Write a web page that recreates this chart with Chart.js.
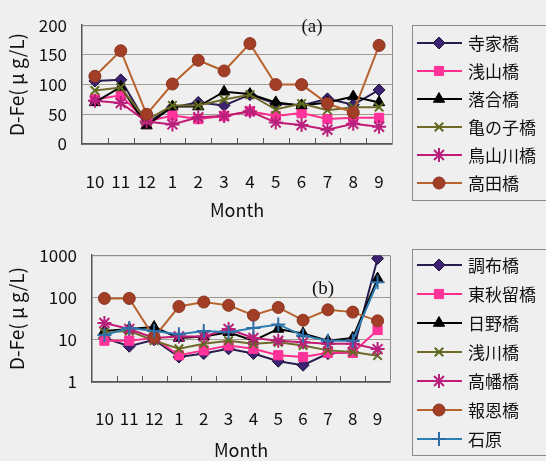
<!DOCTYPE html>
<html>
<head>
<meta charset="utf-8">
<script src="https://cdn.jsdelivr.net/npm/chart.js@4"></script>
<style>
  html, body { margin: 0; padding: 0; background: #efefef; }
  #wrap { position: relative; width: 546px; height: 461px; overflow: hidden; }
  canvas { position: absolute; left: 0; }
  #chartA { top: 0; }
  #chartB { top: 230px; }
</style>
</head>
<body>
<div id="wrap">
  <canvas id="chartA" width="546" height="230"></canvas>
  <canvas id="chartB" width="546" height="231"></canvas>
</div>
<script>
// Sampling months (October to September)
const months = ['10', '11', '12', '1', '2', '3', '4', '5', '6', '7', '8', '9'];

// (a) dissolved iron, linear scale
const namesA = ['寺家橋', '浅山橋', '落合橋', '亀の子橋', '鳥山川橋', '高田橋'];
const jikeA     = [106, 108, 35, 62, 70, 65, 83, 68, 65, 76, 66, 91];
const asayamaA  = [75, 82, 38, 48, 42, 47, 55, 47, 52, 42, 44, 44];
const ochiaiA   = [70, 96, 31, 63, 63, 88, 84, 70, 65, 70, 80, 70];
const kamenokoA = [90, 95, 40, 65, 65, 75, 83, 58, 68, 57, 62, 62];
const toriyamaA = [73, 69, 38, 33, 45, 47, 55, 36, 32, 24, 34, 29];
const takadaA   = [114, 157, 50, 101, 141, 123, 169, 100, 100, 68, 53, 166];
const yTicksA   = [0, 50, 100, 150, 200];

// (b) dissolved iron, log scale
const namesB = ['調布橋', '東秋留橋', '日野橋', '浅川橋', '高幡橋', '報恩橋', '石原'];
const chofuB     = [11, 7, 10, 3.9, 4.7, 6.1, 4.7, 3.1, 2.5, 4.7, 5.1, 840];
const higashiB   = [9.5, 9.5, 11, 4.3, 5.6, 7.3, 6.1, 4.3, 3.9, 4.9, 4.9, 17];
const hinoB      = [16, 18, 20, 11, 12, 15, 9.5, 18, 14, 9.5, 11, 280];
const asakawaB   = [15, 16, 9.5, 6.1, 8, 9.5, 8, 8.7, 7.3, 5.6, 5.1, 4.2];
const takahataB  = [25, 18, 11, 12, 12, 18, 11, 9.5, 8.7, 8, 8, 6];
const hoonB      = [95, 95, 11.4, 61, 78, 65, 38, 58, 29, 51, 45, 28];
const ishiharaB  = [13, 19, 16, 13.5, 16, 15, 19, 23, 12.5, 9.5, 9.5, 230];
const yTicksB    = [1, 10, 100, 1000];

const seriesA = [jikeA, asayamaA, ochiaiA, kamenokoA, toriyamaA, takadaA];
const seriesB = [chofuB, higashiB, hinoB, asakawaB, takahataB, hoonB, ishiharaB];

// Line / marker style per series slot (shared by both panels)
const styles = [
  { line: '#2a1c4e', fill: '#3d2272', edge: '#1c1238', shape: 'rectRot',  r: 6, bw: 1 },
  { line: '#ff2e8e', fill: '#ff3399', edge: '#ff3399', shape: 'rect',     r: 6.5, bw: 1 },
  { line: '#000000', fill: '#000000', edge: '#000000', shape: 'triangle', r: 6.5, bw: 1 },
  { line: '#6f6a2a', fill: 'rgba(0,0,0,0)', edge: '#5e6a1e', shape: 'crossRot', r: 6, bw: 2 },
  { line: '#c21b73', fill: 'rgba(0,0,0,0)', edge: '#b8207c', shape: 'star', r: 7, bw: 2 },
  { line: '#b8622e', fill: '#a23e26', edge: '#8a3420', shape: 'circle',   r: 6, bw: 1 },
  { line: '#2e7fb2', fill: 'rgba(0,0,0,0)', edge: '#2e6fa8', shape: 'cross', r: 7, bw: 2 }
];

const UI_FONT = '"Noto Sans CJK JP", "Noto Sans", sans-serif';

function buildDatasets(names, series) {
  return names.map((name, i) => {
    const st = styles[i];
    return {
      label: name,
      data: series[i],
      borderColor: st.line,
      backgroundColor: st.fill,
      borderWidth: 2,
      pointStyle: st.shape,
      pointRadius: st.r,
      pointBackgroundColor: st.fill,
      pointBorderColor: st.edge,
      pointBorderWidth: st.bw,
      tension: 0,
      order: names.length - i
    };
  });
}

// Frame, inner tick marks, panel tag and boxed legend
const panelDecor = {
  id: 'panelDecor',
  beforeDatasetsDraw(chart, args, opts) {
    const { ctx, chartArea: a } = chart;
    ctx.save();
    ctx.strokeStyle = '#8c8c8c';
    ctx.lineWidth = 1;
    ctx.beginPath();
    ctx.moveTo(a.left, a.top + 0.5);
    ctx.lineTo(a.right + 0.5, a.top + 0.5);
    ctx.lineTo(a.right + 0.5, a.bottom);
    ctx.stroke();
    // short upward tick marks at the category boundaries
    const xs = chart.scales.x;
    ctx.strokeStyle = '#555';
    ctx.beginPath();
    for (let i = 1; i < months.length; i++) {
      const px = Math.round(xs.getPixelForValue(i - 0.5)) + 0.5;
      ctx.moveTo(px, a.bottom);
      ctx.lineTo(px, a.bottom - 6);
    }
    ctx.stroke();
    ctx.restore();
  },
  afterDraw(chart, args, opts) {
    const ctx = chart.ctx;
    ctx.save();
    // panel tag
    ctx.fillStyle = '#111';
    ctx.font = '19px "Liberation Serif", "DejaVu Serif", serif';
    ctx.textAlign = 'center';
    ctx.textBaseline = 'middle';
    ctx.fillText(opts.tag, opts.tagX, opts.tagY);
    // legend box
    ctx.strokeStyle = '#8a8a8a';
    ctx.lineWidth = 1;
    ctx.strokeRect(opts.boxX + 0.5, opts.boxY + 0.5, opts.boxW, opts.boxH);
    chart.data.datasets.forEach((ds, i) => {
      const y = opts.y0 + i * opts.dy;
      ctx.strokeStyle = ds.borderColor;
      ctx.lineWidth = 2;
      ctx.beginPath();
      ctx.moveTo(417, y);
      ctx.lineTo(462, y);
      ctx.stroke();
      ctx.fillStyle = ds.pointBackgroundColor;
      ctx.strokeStyle = ds.pointBorderColor;
      ctx.lineWidth = ds.pointBorderWidth;
      Chart.helpers.drawPoint(ctx, {
        pointStyle: ds.pointStyle,
        radius: ds.pointRadius,
        borderWidth: ds.pointBorderWidth,
        rotation: 0
      }, 439, y);
      ctx.fillStyle = '#111';
      ctx.font = '17px ' + UI_FONT;
      ctx.textAlign = 'left';
      ctx.textBaseline = 'middle';
      ctx.fillText(ds.label, 468, y + 1);
    });
    ctx.restore();
  }
};

function makeChart(id, names, series, cfg) {
  return new Chart(document.getElementById(id), {
    type: 'line',
    data: { labels: months, datasets: buildDatasets(names, series) },
    plugins: [panelDecor],
    options: {
      responsive: false,
      animation: false,
      events: [],
      layout: { padding: cfg.padding },
      plugins: {
        legend: { display: false },
        tooltip: { enabled: false },
        panelDecor: cfg.decor
      },
      scales: {
        x: {
          type: 'category',
          offset: true,
          grid: { display: false, drawTicks: false },
          border: { display: true, color: '#555', width: 1.5 },
          ticks: {
            padding: cfg.xPad,
            maxRotation: 0,
            autoSkip: false,
            color: '#111',
            font: { family: UI_FONT, size: 17 }
          },
          title: {
            display: true,
            text: 'Month',
            color: '#111',
            font: { family: UI_FONT, size: 18 },
            padding: { top: 0, bottom: cfg.titlePad }
          },
          afterFit(scale) { scale.height = cfg.xHeight; }
        },
        y: {
          type: cfg.yType,
          min: cfg.yMin,
          max: cfg.yMax,
          grid: { color: '#a09a90', lineWidth: 1, drawTicks: false },
          border: { display: true, color: '#555', width: 1.5 },
          afterBuildTicks(scale) { scale.ticks = cfg.yTicks.map(v => ({ value: v })); },
          ticks: {
            padding: 15,
            color: '#111',
            font: { family: UI_FONT, size: 17 },
            callback: v => String(v)
          },
          title: {
            display: true,
            text: 'D-Fe( μ g/L)',
            color: '#111',
            font: { family: UI_FONT, size: 19 },
            padding: { top: 5, bottom: 0 }
          },
          afterFit(scale) { scale.width = cfg.yWidth; }
        }
      }
    }
  });
}

makeChart('chartA', namesA, seriesA, {
  padding: { left: 0, top: 14, right: 154, bottom: 0 },
  yType: 'linear', yMin: 0, yMax: 200, yTicks: yTicksA,
  yWidth: 82, xHeight: 86, xPad: 27, titlePad: 9,
  decor: { tag: '(a)', tagX: 312, tagY: 27, boxX: 412, boxY: 25, boxW: 150, boxH: 175, y0: 43, dy: 28 }
});

makeChart('chartB', namesB, seriesB, {
  padding: { left: 0, top: 23, right: 156, bottom: 0 },
  yType: 'logarithmic', yMin: 1, yMax: 1000, yTicks: yTicksB,
  yWidth: 92, xHeight: 79, xPad: 26, titlePad: 0,
  decor: { tag: '(b)', tagX: 323, tagY: 59, boxX: 412, boxY: 19, boxW: 150, boxH: 206, y0: 35, dy: 29 }
});
</script>
</body>
</html>
